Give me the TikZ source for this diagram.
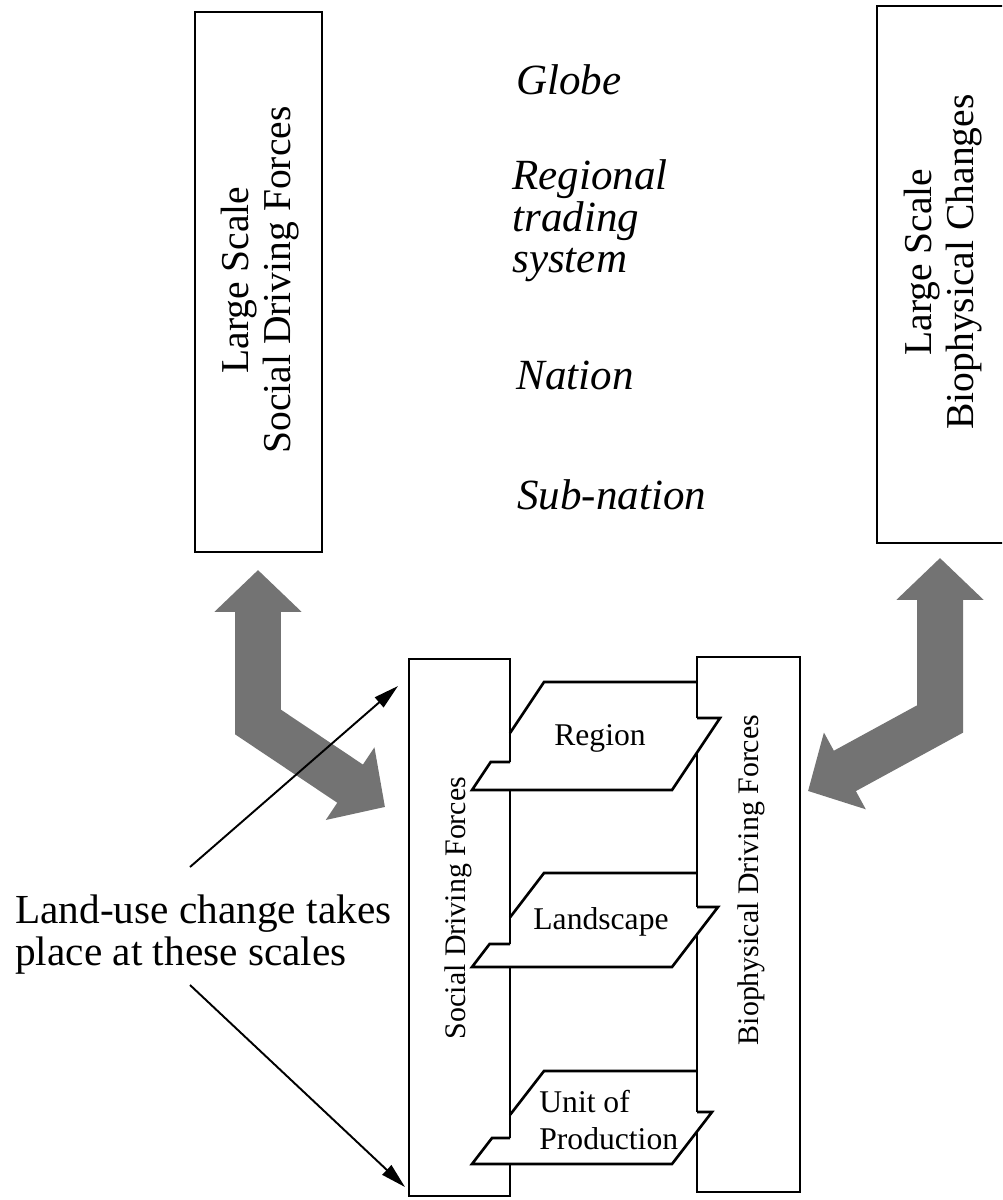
\documentclass[tikz,border=0pt]{standalone}
\usepackage{fontspec}
\setmainfont{Liberation Serif}
\usetikzlibrary{arrows.meta}
\begin{document}
\begin{tikzpicture}[x=0.02cm, y=-0.02cm,
  frame/.style={line width=1.5pt, line join=miter, line cap=butt},
  scalelab/.style={anchor=base west, inner sep=0pt, font=\fontsize{24.5}{24}\selectfont\itshape},
  sidelab/.style={rotate=90, align=center, inner sep=0pt, font=\fontsize{22.5}{24}\selectfont},
  pilllab/.style={inner sep=0pt, font=\fontsize{18}{21.5}\selectfont},
  colllab/.style={rotate=90, inner sep=0pt, font=\fontsize{17}{20}\selectfont},
  noteline/.style={anchor=base west, inner sep=0pt, font=\fontsize{23.5}{26}\selectfont},
  pointer/.style={line width=1.1pt, -{Triangle[length=0.5cm, width=0.26cm]}},
  fatarrow/.style={line width=0.92cm, draw=black!55, line join=miter,
    {Triangle[width=1.7cm,length=0.84cm]}-{Triangle[width=1.7cm,length=0.84cm]}},
]
\useasboundingbox (0,0) rectangle (1002,1200);
\clip (0,0) rectangle (1002,1200);

% large-scale boxes
\draw[frame] (195,12) rectangle (322,552);
\node[sidelab] (lsdf) at (260,280) {Large Scale\\Social Driving Forces};
\draw[frame] (877,6) rectangle (1008,543);
\node[sidelab] (lsbc) at (943,262) {Large Scale\\Biophysical Changes};

% scale names
\node[scalelab] (globe) at (516,94) {Globe};
\node[scalelab] (reg1) at (512,189) {Regional};
\node[scalelab] (reg2) at (512,231) {trading};
\node[scalelab] (reg3) at (512,272) {system};
\node[scalelab] (nation) at (516,389) {Nation};
\node[scalelab] (subnation) at (517,509) {Sub-nation};

% social driving forces column (right edge interrupted by the slots)
\draw[frame] (510,762) -- (510,659) -- (409,659) -- (409,1196) -- (510,1196) -- (510,1164);
\draw[frame] (510,1138) -- (510,967);
\draw[frame] (510,944) -- (510,790);
\node[colllab] (sdf) at (458,908) {Social Driving Forces};

% biophysical driving forces column (left edge interrupted by the slots)
\draw[frame] (697,718) -- (697,657) -- (800,657) -- (800,1192) -- (697,1192) -- (697,1131.7);
\draw[frame] (697,1112) -- (697,934.4);
\draw[frame] (697,907) -- (697,752.5);
\node[colllab] (bdf) at (751,880) {Biophysical Driving Forces};

% region plane
\draw[frame] (510,733) -- (544,682) -- (697,682);
\draw[frame] (697,718) -- (720,718) -- (672,790) -- (472,790) -- (490.7,762) -- (510,762);
\node[pilllab] (region) at (600,738) {Region};

% landscape plane
\draw[frame] (510,917.4) -- (544,873) -- (697,873);
\draw[frame] (697,907) -- (718,907) -- (672,967) -- (472,967) -- (489.6,944) -- (510,944);
\node[pilllab] (landscape) at (601,922) {Landscape};

% unit of production plane
\draw[frame] (510,1114.9) -- (544,1071) -- (697,1071);
\draw[frame] (697,1112) -- (712,1112) -- (672,1164) -- (472,1164) -- (492,1138) -- (510,1138);
\node[pilllab, align=left, anchor=west] (unit) at (539,1120) {Unit of\\Production};

% bent double arrows
\coordinate (lup) at (258,570);
\coordinate (lbend) at (258,722);
\coordinate (ltip) at (385,807);
\draw[fatarrow] (lup) -- (lbend) -- (ltip);
\coordinate (rup) at (940,558);
\coordinate (rbend) at (940,719);
\coordinate (rtip) at (808,791);
\draw[fatarrow] (rup) -- (rbend) -- (rtip);

% note and its pointers
\node[noteline] (noteA) at (15,923) {Land-use change takes};
\node[noteline] (noteB) at (15,965) {place at these scales};
\coordinate (upstart) at (190,867);
\coordinate (upend) at (398,686);
\coordinate (downstart) at (190,985);
\coordinate (downend) at (405,1187);
\draw[pointer] (upstart) -- (upend);
\draw[pointer] (downstart) -- (downend);
\end{tikzpicture}
\end{document}
